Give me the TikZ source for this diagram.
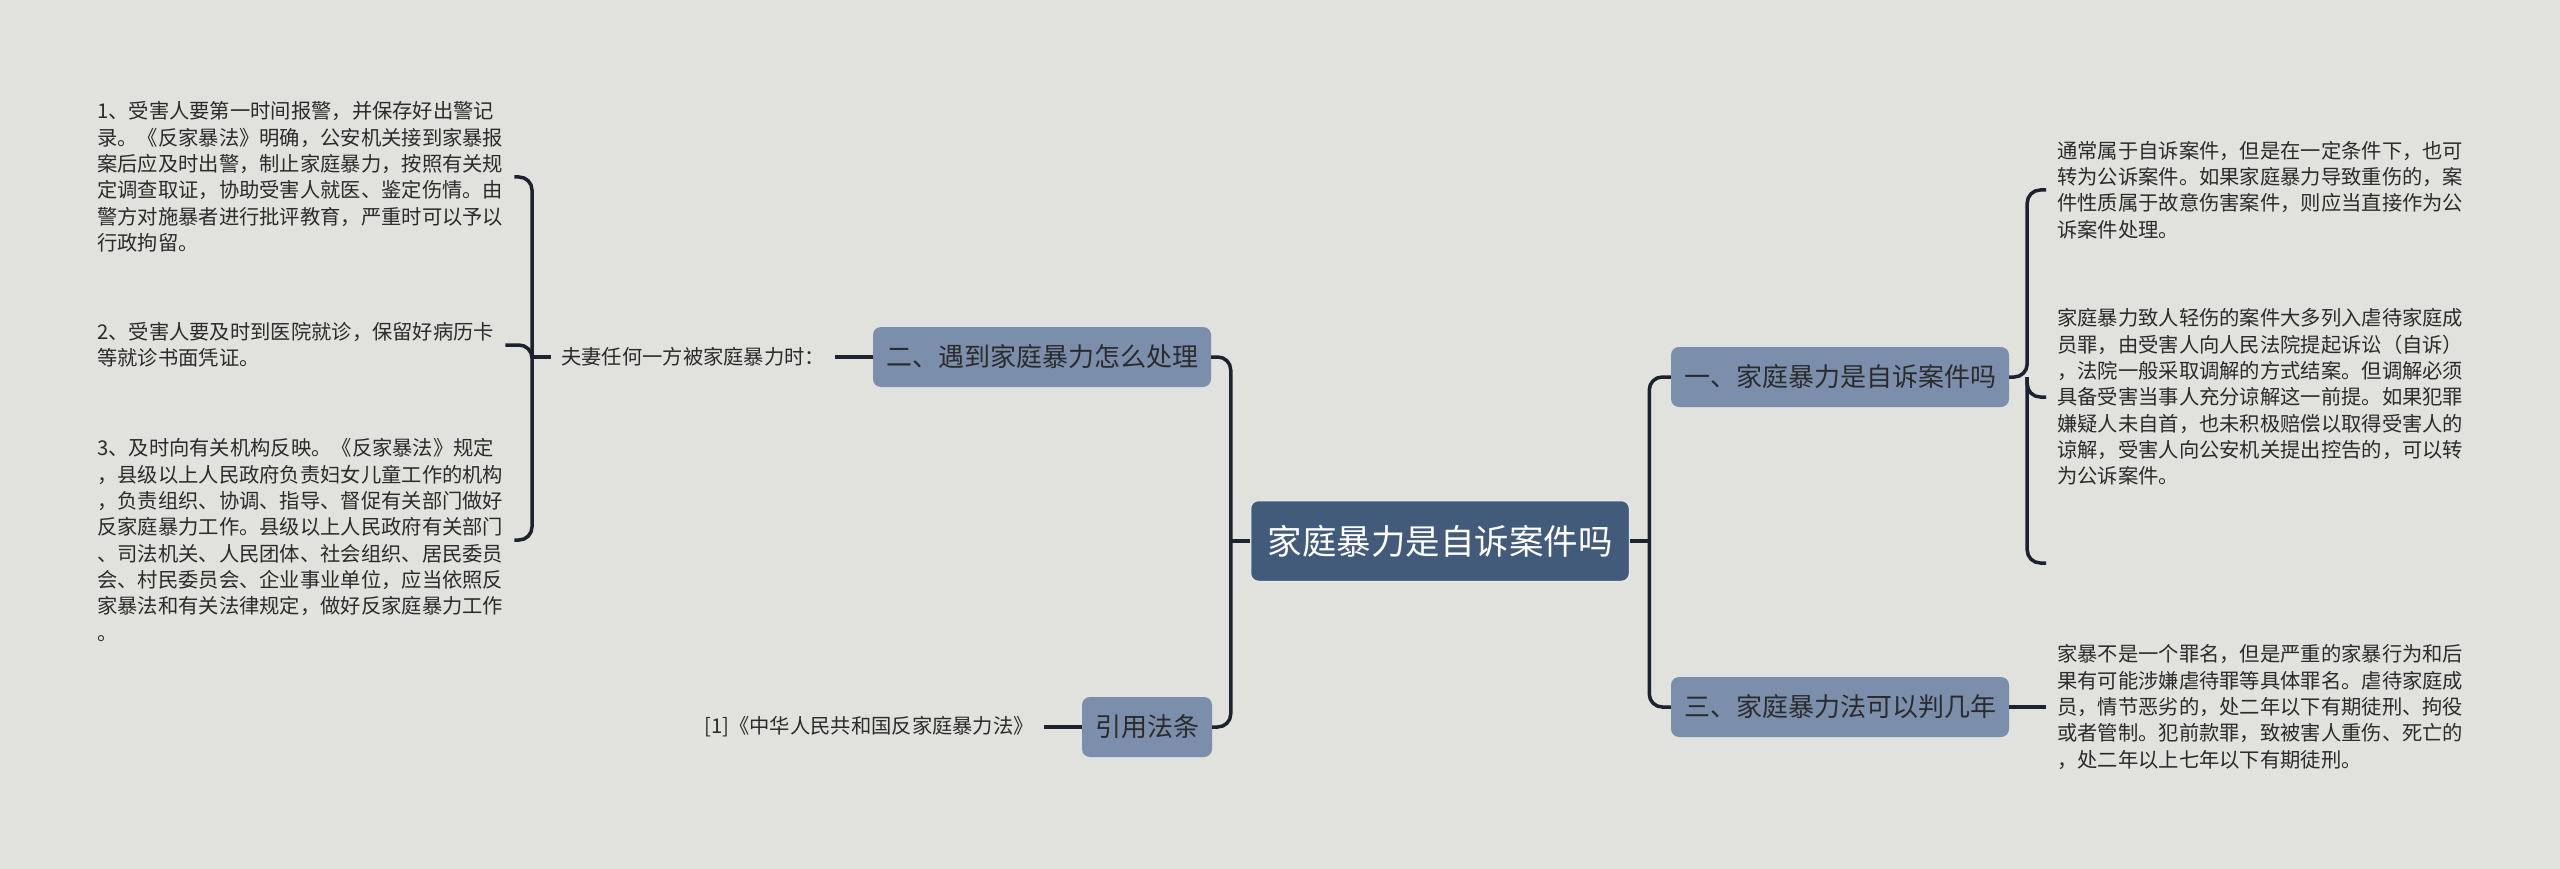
\documentclass[tikz,border=0pt]{standalone}
\usepackage{fontspec}
\setmainfont{Noto Sans CJK SC}
\definecolor{bgc}{HTML}{E1E1DD}
\definecolor{rootc}{HTML}{435B7B}
\definecolor{branchc}{HTML}{7B8FAD}
\definecolor{linec}{HTML}{1C2230}
\definecolor{txtc}{HTML}{2B2B2B}
\begin{document}
\begin{tikzpicture}[x=1pt,y=-1pt,
  rootbox/.style={rounded corners=8pt, fill=rootc, draw=white!85!rootc, line width=1.5pt, text=white,
    font=\fontsize{34.5}{40}\selectfont, inner xsep=17pt, minimum height=81pt},
  branchbox/.style={rounded corners=8pt, fill=branchc, text=txtc,
    font=\fontsize{26}{30}\selectfont, inner xsep=13pt, minimum height=60pt},
  leaftxt/.style={text=txtc, align=left, font=\fontsize{20.3}{26.3}\selectfont, inner xsep=11pt, inner ysep=3pt},
  conn/.style={draw=linec, line width=3.5pt, rounded corners=13pt},
  stub/.style={draw=linec, line width=3.5pt}
]
\useasboundingbox[fill=bgc] (0,0) rectangle (2560,869);

% main nodes
\node[rootbox] (root) at (1440,541) {家庭暴力是自诉案件吗};
\node[branchbox] (b2) at (1042,357) {二、遇到家庭暴力怎么处理};
\node[branchbox] (bref) at (1147,727) {引用法条};
\node[branchbox] (b1) at (1840,377) {一、家庭暴力是自诉案件吗};
\node[branchbox] (b3) at (1840,707) {三、家庭暴力法可以判几年};

% left leaves
\node[leaftxt, anchor=west, inner xsep=10pt] (fuqi) at (551,357) {夫妻任何一方被家庭暴力时：};
\node[leaftxt, anchor=east, inner xsep=10pt] (ref) at (1044,727) {[1]《中华人民共和国反家庭暴力法》};

\node[leaftxt, anchor=west] (t1) at (86,177) {1、受害人要第一时间报警，并保存好出警记\\录。《反家暴法》明确，公安机关接到家暴报\\案后应及时出警，制止家庭暴力，按照有关规\\定调查取证，协助受害人就医、鉴定伤情。由\\警方对施暴者进行批评教育，严重时可以予以\\行政拘留。};
\node[leaftxt, anchor=west] (t2) at (86,345) {2、受害人要及时到医院就诊，保留好病历卡\\等就诊书面凭证。};
\node[leaftxt, anchor=west] (t3) at (86,540) {3、及时向有关机构反映。《反家暴法》规定\\，县级以上人民政府负责妇女儿童工作的机构\\，负责组织、协调、指导、督促有关部门做好\\反家庭暴力工作。县级以上人民政府有关部门\\、司法机关、人民团体、社会组织、居民委员\\会、村民委员会、企业事业单位，应当依照反\\家暴法和有关法律规定，做好反家庭暴力工作\\。};

% right leaves
\node[leaftxt, anchor=west] (tA) at (2046,190) {通常属于自诉案件，但是在一定条件下，也可\\转为公诉案件。如果家庭暴力导致重伤的，案\\件性质属于故意伤害案件，则应当直接作为公\\诉案件处理。};
\node[leaftxt, anchor=west] (tB) at (2046,397) {家庭暴力致人轻伤的案件大多列入虐待家庭成\\员罪，由受害人向人民法院提起诉讼（自诉）\\，法院一般采取调解的方式结案。但调解必须\\具备受害当事人充分谅解这一前提。如果犯罪\\嫌疑人未自首，也未积极赔偿以取得受害人的\\谅解，受害人向公安机关提出控告的，可以转\\为公诉案件。};
\coordinate (tD) at (2046,563);
\node[leaftxt, anchor=west] (tC) at (2046,707) {家暴不是一个罪名，但是严重的家暴行为和后\\果有可能涉嫌虐待罪等具体罪名。虐待家庭成\\员，情节恶劣的，处二年以下有期徒刑、拘役\\或者管制。犯前款罪，致被害人重伤、死亡的\\，处二年以上七年以下有期徒刑。};

% junction points
\coordinate (jroot-l) at ([xshift=-19pt]root.west);
\coordinate (jroot-r) at ([xshift=19pt]root.east);
\coordinate (jfuqi) at ([xshift=-19pt]fuqi.west);
\coordinate (jb1) at ([xshift=18pt]b1.east);

% connectors from root
\draw[stub] (root.west) -- (jroot-l);
\draw[conn] (jroot-l) |- (b2.east);
\draw[conn] (jroot-l) |- (bref.east);
\draw[stub] (root.east) -- (jroot-r);
\draw[conn] (jroot-r) |- (b1.west);
\draw[conn] (jroot-r) |- (b3.west);

% left side
\draw[stub] (b2.west) -- (fuqi.east);
\draw[stub] (bref.west) -- (ref.east);
\draw[stub] (fuqi.west) -- (jfuqi);
\draw[conn] (jfuqi) |- (t1.east);
\draw[conn] (jfuqi) |- (t2.east);
\draw[conn] (jfuqi) |- (t3.east);

% right side
\draw[conn] (b1.east) -- (jb1) |- (tA.west);
\draw[conn] (jb1) |- (tB.west);
\draw[conn] (jb1) |- (tD);
\draw[stub] (b3.east) -- (tC.west);
\end{tikzpicture}
\end{document}
